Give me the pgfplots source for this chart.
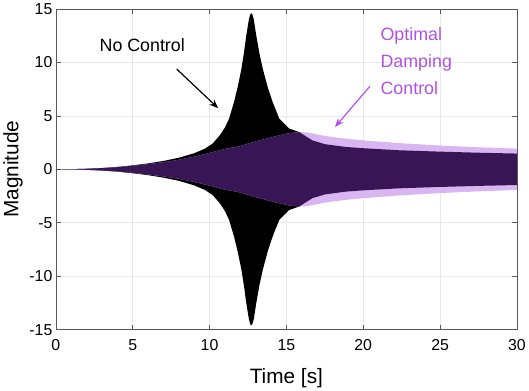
\documentclass[border=0pt]{standalone}
\usepackage{pgfplots}
\pgfplotsset{compat=1.18}
\usepackage{pgfplotstable}
\usepgfplotslibrary{fillbetween}
\usetikzlibrary{arrows.meta}
\usepackage{fontspec}
\setmainfont{Liberation Sans}
\definecolor{lightp}{RGB}{217,181,242}
\definecolor{darkp}{RGB}{56,22,86}
\definecolor{annp}{RGB}{178,80,230}
\pgfplotstableread{
t b p d
0 0 0 0
1 0.01 0.01 0.01
2 0.05 0.05 0.05
3 0.12 0.11 0.11
4 0.22 0.2 0.2
5 0.37 0.33 0.33
6 0.55 0.48 0.48
7 0.78 0.66 0.66
8 1.08 0.88 0.88
9 1.5 1.18 1.18
9.7 1.93 1.42 1.42
10.2 2.4 1.6 1.6
10.67 3.18 1.78 1.78
11.0 3.9 1.9 1.9
11.27 4.72 1.98 1.98
11.59 6.27 2.05 2.05
11.85 7.8 2.12 2.12
12.07 9.36 2.2 2.2
12.25 11.0 2.28 2.28
12.39 12.5 2.35 2.35
12.56 14.0 2.42 2.42
12.64 14.45 2.45 2.45
12.71 14.6 2.48 2.48
12.79 14.45 2.52 2.52
12.88 14.0 2.56 2.56
13.04 12.5 2.62 2.62
13.25 10.8 2.7 2.7
13.47 9.36 2.78 2.78
13.8 7.6 2.9 2.9
14.11 6.27 3.02 3.02
14.54 4.72 3.18 3.18
15.19 3.8 3.38 3.38
15.84 3.48 3.48 3.48
16.3 3.05 3.45 3.05
16.7 2.7 3.35 2.7
17.5 2.35 3.12 2.35
18.85 2.09 2.86 2.09
20 1.97 2.7 1.97
22.3 1.78 2.45 1.78
25 1.65 2.22 1.65
27.5 1.55 2.06 1.55
30 1.47 1.93 1.47
}\env
\begin{document}
\begin{tikzpicture}
\begin{axis}[
  scale only axis, width=464bp, height=323bp,
  xmin=0, xmax=30, ymin=-15, ymax=15,
  xtick={0,5,...,30}, ytick={-15,-10,...,15},
  grid=major, grid style={draw=gray!18, line width=0.6pt},
  axis line style={draw=gray!70!black, line width=0.6pt},
  tick style={draw=gray!70!black, line width=0.6pt},
  tick align=inside, major tick length=5bp,
  ticklabel style={font=\fontsize{16}{18}\selectfont},
  xticklabel style={yshift=-6bp},
  /pgf/number format/assume math mode=true,
  xlabel={Time [s]}, ylabel={Magnitude},
  label style={font=\fontsize{21}{24}\selectfont},
  xlabel style={yshift=-11bp},
]
\addplot[draw=none, name path=bu] table[x=t, y=b]{\env};
\addplot[draw=none, name path=bl] table[x=t, y expr=-\thisrow{b}]{\env};
\addplot[black] fill between[of=bu and bl];
\addplot[draw=none, name path=pu] table[x=t, y=p]{\env};
\addplot[draw=none, name path=pl] table[x=t, y expr=-\thisrow{p}]{\env};
\addplot[lightp] fill between[of=pu and pl];
\addplot[draw=none, name path=du] table[x=t, y=d]{\env};
\addplot[draw=none, name path=dl] table[x=t, y expr=-\thisrow{d}]{\env};
\addplot[darkp] fill between[of=du and dl];
\node[font=\fontsize{18}{20}\selectfont] at (axis cs:5.62,11.65) {No Control};
\draw[-{Stealth[length=9bp,width=7bp]}, line width=1.2pt] (axis cs:7.87,9.36) -- (axis cs:10.56,5.71);
\node[anchor=west, inner sep=0pt, align=left, text=annp, font=\fontsize{18}{27}\selectfont] at (axis cs:21.12,10.1) {Optimal\\Damping\\Control};
\draw[annp, -{Stealth[length=9bp,width=7bp]}, line width=1.2pt] (axis cs:20.43,7.75) -- (axis cs:18.16,3.95);
\end{axis}
\end{tikzpicture}
\end{document}
